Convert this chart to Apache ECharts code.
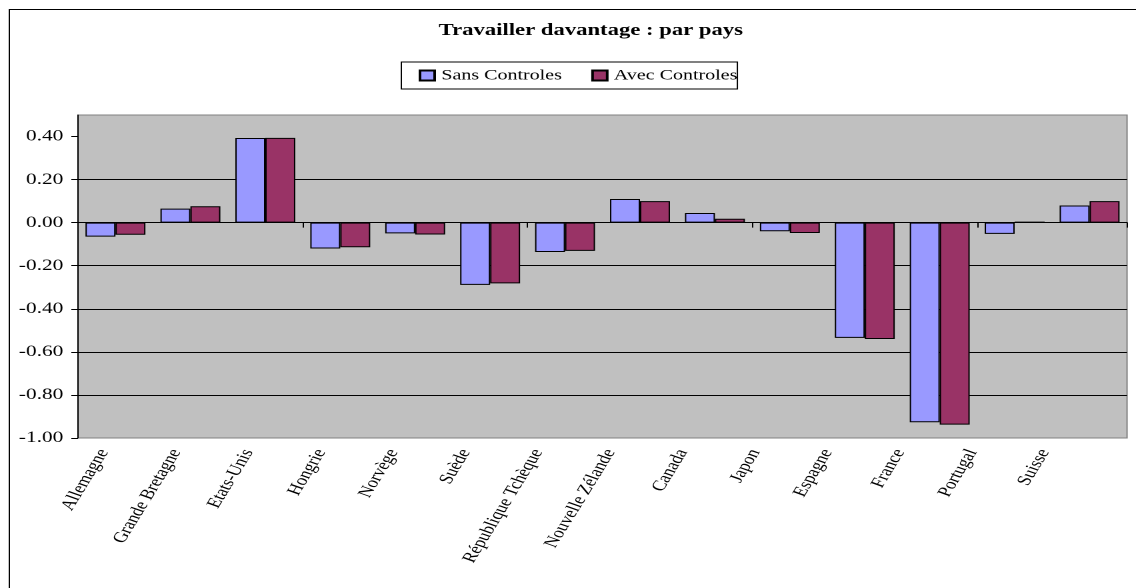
<!DOCTYPE html>
<html>
<head>
<meta charset="utf-8">
<script src="https://cdn.jsdelivr.net/npm/echarts@6/dist/echarts.min.js"></script>
<style>
html,body{margin:0;padding:0;background:#fff;overflow:hidden;}
/* la source est étirée horizontalement, on fait pareil */
#main{width:852px;height:588px;transform:scaleX(1.33333);transform-origin:0 0;}
</style>
</head>
<body>
<div id="main"></div>
<script>
// pays
var pays=['Allemagne','Grande Bretagne','Etats-Unis','Hongrie','Norvège','Suède','République Tchèque','Nouvelle Zélande','Canada','Japon','Espagne','France','Portugal','Suisse'];
// valeurs
var sansControles=[-0.065,0.065,0.393,-0.120,-0.050,-0.289,-0.136,0.110,0.045,-0.040,-0.535,-0.927,-0.052,0.080];
var avecControles=[-0.056,0.076,0.394,-0.114,-0.055,-0.282,-0.131,0.100,0.018,-0.048,-0.540,-0.938,0.005,0.100];
// graduations
var yTicks=[-1,-0.8,-0.6,-0.4,-0.2,0,0.2,0.4];

var police='Liberation Serif';
var myChart=echarts.init(document.getElementById('main'),null,{renderer:'canvas',devicePixelRatio:2});
var option={
    animation:false,
    textStyle:{fontFamily:police,color:'#000'},
    title:{
        text:'Travailler davantage : par pays',
        left:329,top:22,padding:0,
        textStyle:{fontFamily:police,fontSize:17,fontWeight:'bold',color:'#000'}
    },
    legend:{
        left:301,top:62,
        padding:[6,0,6,13],
        borderColor:'#000',borderWidth:1,
        itemWidth:11,itemHeight:10,itemGap:22,
        icon:'rect',
        textStyle:{fontFamily:police,fontSize:15,color:'#000'},
        data:['Sans Controles','Avec Controles']
    },
    grid:[
        {left:58.5,right:6.7,top:115,bottom:150,show:true,backgroundColor:'#c0c0c0',borderColor:'#808080',borderWidth:1},
        // grille pour les étiquettes des pays (un peu décalée comme dans Excel)
        {left:50.7,right:41.3,top:115,bottom:150}
    ],
    xAxis:[
        {
            type:'category',gridIndex:0,data:pays,
            axisLine:{onZero:true,lineStyle:{color:'#000',width:1}},
            axisTick:{show:true,length:5,lineStyle:{color:'#000'}},
            axisLabel:{show:false},
            splitLine:{show:false}
        },
        {
            type:'category',gridIndex:1,data:pays,
            axisLine:{show:false},axisTick:{show:false},
            axisLabel:{interval:0,rotate:65,margin:12,fontFamily:police,fontSize:15,color:'#000'}
        }
    ],
    yAxis:[
        {
            type:'value',gridIndex:0,min:-1,max:0.5,interval:0.2,
            axisLine:{show:true,lineStyle:{color:'#000'}},
            axisTick:{show:true,length:5,customValues:yTicks,lineStyle:{color:'#000'}},
            axisLabel:{margin:11,fontFamily:police,fontSize:16,color:'#000',showMaxLabel:false,
                formatter:function(v){return v.toFixed(2);}},
            splitLine:{show:true,showMaxLine:false,showMinLine:false,lineStyle:{color:'#000',width:1}}
        },
        {type:'value',gridIndex:1,show:false,min:-1,max:0.5}
    ],
    series:[
        {
            name:'Sans Controles',type:'bar',data:sansControles,
            barGap:'0%',barCategoryGap:'20%',
            itemStyle:{color:'#9999ff',borderColor:'#000',borderWidth:1}
        },
        {
            name:'Avec Controles',type:'bar',data:avecControles,
            barGap:'0%',barCategoryGap:'20%',
            itemStyle:{color:'#993366',borderColor:'#000',borderWidth:1}
        }
    ],
    graphic:[
        // cadre extérieur
        {type:'rect',left:4.5,top:7,shape:{width:846,height:600},
         style:{fill:'none',stroke:'#000',lineWidth:1},silent:true,z:-1}
    ]
};
myChart.setOption(option);
</script>
</body>
</html>
